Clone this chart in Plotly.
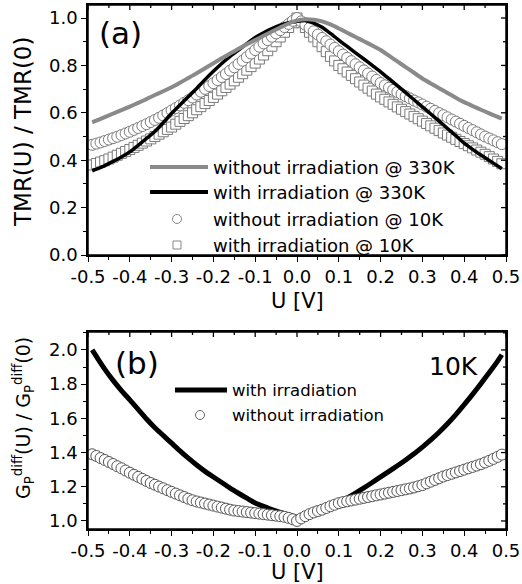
import plotly.graph_objects as go

# ---------------- data ----------------
# marker series grid (V)
u_mk = [round(i / 100, 2) for i in range(-49, 50)]
# line series grid (V)
u_ln = [-0.49] + [round(i / 100, 2) for i in range(-48, 49, 2)] + [0.49]

# (a) without irradiation @ 330K (gray line)
tmr_wo_330 = [0.560, 0.567, 0.582, 0.597, 0.611, 0.626, 0.642, 0.658, 0.675, 0.691, 0.708, 0.727,
              0.747, 0.767, 0.788, 0.809, 0.830, 0.850, 0.870, 0.889, 0.907, 0.925, 0.943, 0.960,
              0.977, 0.990, 0.995, 0.993, 0.986, 0.973, 0.956, 0.938, 0.920, 0.902, 0.884, 0.865,
              0.841, 0.817, 0.793, 0.769, 0.745, 0.724, 0.704, 0.684, 0.664, 0.645, 0.629, 0.613,
              0.598, 0.583, 0.576]
# (a) with irradiation @ 330K (black line)
tmr_w_330 = [0.355, 0.362, 0.377, 0.395, 0.414, 0.435, 0.463, 0.492, 0.521, 0.558, 0.598, 0.633,
             0.668, 0.703, 0.740, 0.775, 0.808, 0.838, 0.865, 0.892, 0.918, 0.938, 0.955, 0.970,
             0.980, 0.986, 0.989, 0.979, 0.961, 0.935, 0.907, 0.880, 0.853, 0.827, 0.800, 0.773,
             0.744, 0.715, 0.685, 0.655, 0.625, 0.595, 0.565, 0.534, 0.503, 0.472, 0.446, 0.422,
             0.399, 0.376, 0.364]
# (a) without irradiation @ 10K (circles)
tmr_wo_10 = [0.465, 0.470, 0.475, 0.481, 0.487, 0.493, 0.499, 0.506, 0.513, 0.520,
             0.528, 0.536, 0.544, 0.552, 0.561, 0.570, 0.579, 0.589, 0.599, 0.610,
             0.620, 0.631, 0.642, 0.653, 0.665, 0.677, 0.689, 0.701, 0.713, 0.725,
             0.738, 0.751, 0.764, 0.778, 0.792, 0.806, 0.820, 0.835, 0.850, 0.865,
             0.879, 0.893, 0.907, 0.921, 0.935, 0.949, 0.962, 0.975, 0.988,
             1.000,
             0.986, 0.972, 0.958, 0.944, 0.930, 0.916, 0.902, 0.888, 0.874, 0.860,
             0.846, 0.832, 0.818, 0.805, 0.792, 0.779, 0.766, 0.753, 0.739, 0.726,
             0.716, 0.706, 0.697, 0.688, 0.679, 0.670, 0.661, 0.652, 0.644, 0.635,
             0.626, 0.617, 0.608, 0.599, 0.590, 0.581, 0.572, 0.563, 0.554, 0.545,
             0.536, 0.527, 0.518, 0.509, 0.500, 0.492, 0.484, 0.476, 0.468]
# (a) with irradiation @ 10K (squares)
tmr_w_10 = [0.380, 0.386, 0.392, 0.398, 0.405, 0.413, 0.421, 0.429, 0.437, 0.445,
            0.454, 0.463, 0.472, 0.481, 0.490, 0.500, 0.510, 0.520, 0.530, 0.540,
            0.552, 0.564, 0.576, 0.588, 0.600, 0.613, 0.626, 0.639, 0.652, 0.665,
            0.679, 0.693, 0.707, 0.721, 0.735, 0.750, 0.765, 0.780, 0.795, 0.810,
            0.827, 0.844, 0.862, 0.881, 0.900, 0.920, 0.940, 0.960, 0.980,
            1.000,
            0.980, 0.960, 0.940, 0.920, 0.900, 0.879, 0.858, 0.838, 0.819, 0.800,
            0.786, 0.772, 0.758, 0.744, 0.730, 0.717, 0.704, 0.692, 0.679, 0.667,
            0.657, 0.646, 0.636, 0.625, 0.615, 0.605, 0.595, 0.585, 0.575, 0.565,
            0.555, 0.545, 0.535, 0.525, 0.515, 0.506, 0.497, 0.488, 0.479, 0.470,
            0.461, 0.452, 0.443, 0.434, 0.425, 0.415, 0.405, 0.395, 0.385]
# (b) with irradiation (black line)
g_w = [2.000, 1.962, 1.888, 1.822, 1.762, 1.708, 1.652, 1.596, 1.545, 1.500, 1.455, 1.410,
       1.367, 1.327, 1.290, 1.257, 1.225, 1.192, 1.162, 1.133, 1.105, 1.085, 1.066, 1.050,
       1.036, 1.022, 1.032, 1.045, 1.062, 1.085, 1.110, 1.135, 1.163, 1.193, 1.225, 1.258,
       1.290, 1.323, 1.357, 1.393, 1.432, 1.474, 1.519, 1.568, 1.622, 1.680, 1.740, 1.803,
       1.868, 1.935, 1.972]
# (b) without irradiation (circles)
g_wo = [1.390, 1.380, 1.368, 1.357, 1.345, 1.333, 1.320, 1.308, 1.295, 1.282,
        1.270, 1.258, 1.246, 1.234, 1.222, 1.212, 1.201, 1.191, 1.180, 1.170,
        1.160, 1.150, 1.140, 1.130, 1.121, 1.114, 1.108, 1.102, 1.096, 1.090,
        1.084, 1.078, 1.072, 1.066, 1.061, 1.058, 1.055, 1.052, 1.049, 1.046,
        1.043, 1.040, 1.037, 1.034, 1.031, 1.028, 1.024, 1.018, 1.010,
        1.000,
        1.015, 1.028, 1.040, 1.050, 1.058, 1.066, 1.076, 1.086, 1.095, 1.104,
        1.110, 1.115, 1.120, 1.125, 1.130, 1.135, 1.140, 1.145, 1.150, 1.155,
        1.160, 1.165, 1.170, 1.175, 1.180, 1.185, 1.190, 1.196, 1.203, 1.210,
        1.220, 1.230, 1.240, 1.250, 1.260, 1.268, 1.276, 1.284, 1.292, 1.300,
        1.308, 1.316, 1.324, 1.332, 1.342, 1.352, 1.363, 1.375, 1.388]

x_ticks = [-0.5, -0.4, -0.3, -0.2, -0.1, 0.0, 0.1, 0.2, 0.3, 0.4, 0.5]
x_ticktext = ["-0.5", "-0.4", "-0.3", "-0.2", "-0.1", "0.0", "0.1", "0.2", "0.3", "0.4", "0.5"]
ya_ticks = [0.0, 0.2, 0.4, 0.6, 0.8, 1.0]
yb_ticks = [1.0, 1.2, 1.4, 1.6, 1.8, 2.0]

legend_a = ["without irradiation @ 330K", "with irradiation @ 330K",
            "without irradiation @ 10K", "with irradiation @ 10K"]
legend_b = ["with irradiation", "without irradiation"]

# ---------------- layout helpers ----------------
W, H = 522, 584
def px(x): return x / W
def py(y): return 1 - y / H

FONT = "DejaVu Sans"
GRAY = "#8a8a8a"
MK = "#7a7a7a"

fig = go.Figure()

# (a) traces
fig.add_trace(go.Scatter(x=u_mk, y=tmr_w_10, mode="markers", xaxis="x", yaxis="y",
                         marker=dict(symbol="square", size=10, color="white",
                                     line=dict(color=MK, width=1)), showlegend=False))
fig.add_trace(go.Scatter(x=u_mk, y=tmr_wo_10, mode="markers", xaxis="x", yaxis="y",
                         marker=dict(symbol="circle", size=11, color="white",
                                     line=dict(color=MK, width=1)), showlegend=False))
fig.add_trace(go.Scatter(x=u_ln, y=tmr_w_330, mode="lines", xaxis="x", yaxis="y",
                         line=dict(color="black", width=3.5, shape="spline", smoothing=0.6),
                         showlegend=False))
fig.add_trace(go.Scatter(x=u_ln, y=tmr_wo_330, mode="lines", xaxis="x", yaxis="y",
                         line=dict(color=GRAY, width=4, shape="spline", smoothing=0.6),
                         showlegend=False))
# (b) traces
fig.add_trace(go.Scatter(x=u_ln, y=g_w, mode="lines", xaxis="x2", yaxis="y2",
                         line=dict(color="black", width=5, shape="spline", smoothing=0.6),
                         showlegend=False))
fig.add_trace(go.Scatter(x=u_mk, y=g_wo, mode="markers", xaxis="x2", yaxis="y2",
                         marker=dict(symbol="circle", size=11, color="white",
                                     line=dict(color="#555555", width=1)), showlegend=False))

dom_x = [px(88), px(506)]
dom_ya = [py(255), py(5)]
dom_yb = [py(529), py(332)]

tickfont = dict(family=FONT, size=18, color="black")

def xax(anchor):
    return dict(range=[-0.5, 0.5], domain=dom_x, anchor=anchor, side="bottom",
                automargin=False, showline=True, linecolor="black", linewidth=1.5,
                mirror=True, showgrid=False, zeroline=False,
                tickmode="array", tickvals=x_ticks, ticktext=x_ticktext,
                ticks="outside", ticklen=5, tickwidth=1.3, tickcolor="black",
                tickfont=tickfont,
                minor=dict(tickmode="array",
                           tickvals=[round(v + 0.05, 2) for v in x_ticks[:-1]],
                           ticks="outside", ticklen=3, tickwidth=1.2, tickcolor="black"))

def yax(anchor, rng, tv, dom):
    return dict(range=rng, domain=dom, anchor=anchor, side="left",
                automargin=False, showline=True, linecolor="black", linewidth=1.5,
                mirror=True, showgrid=False, zeroline=False,
                tickmode="array", tickvals=tv, ticktext=["%.1f" % v for v in tv],
                ticks="outside", ticklen=5, tickwidth=1.3, tickcolor="black",
                tickfont=tickfont,
                minor=dict(tickmode="array",
                           tickvals=[round(v + 0.1, 2) for v in tv],
                           ticks="outside", ticklen=3, tickwidth=1.2, tickcolor="black"))

fig.update_layout(
    template="none",
    width=W, height=H, margin=dict(l=0, r=0, t=0, b=0, pad=0), autosize=False,
    paper_bgcolor="white", plot_bgcolor="white", showlegend=False,
    font=dict(family=FONT, color="black"),
    xaxis=xax("y"),
    yaxis=yax("x", [0, 1.055], ya_ticks, dom_ya),
    xaxis2=xax("y2"),
    yaxis2=yax("x2", [0.953, 2.105], yb_ticks, dom_yb),
)

ann = []
def text(x, y, s, size, angle=0, xanchor="center"):
    ann.append(dict(x=px(x), y=py(y), xref="paper", yref="paper", text=s, showarrow=False,
                    xanchor=xanchor, yanchor="middle", textangle=angle,
                    font=dict(family=FONT, size=size, color="black")))

text(23, 132, "TMR(U) / TMR(0)", 23, angle=-90)
text(297, 301, "U [V]", 21)
text(23, 418, "G<sub>P</sub><sup>diff</sup>(U) / G<sub>P</sub><sup>diff</sup>(0)", 19, angle=-90)
text(297, 572, "U [V]", 21)
text(120, 33, "(a)", 31)
text(137, 363, "(b)", 31)
text(453, 366, "10K", 25)

# legend (a)
rows_a = [167, 192, 219, 245]
for lab, yy in zip(legend_a, rows_a):
    text(211, yy, lab, 18, xanchor="left")
# legend (b)
rows_b = [390, 415]
for lab, yy in zip(legend_b, rows_b):
    text(230, yy, lab, 16.5, xanchor="left")

shapes = [
    dict(type="line", xref="paper", yref="paper", x0=px(150), x1=px(208), y0=py(167), y1=py(167),
         line=dict(color=GRAY, width=4)),
    dict(type="line", xref="paper", yref="paper", x0=px(150), x1=px(208), y0=py(192), y1=py(192),
         line=dict(color="black", width=4)),
    dict(type="circle", xref="paper", yref="paper", xsizemode="pixel", ysizemode="pixel",
         xanchor=px(177), yanchor=py(219), x0=-4.5, x1=4.5, y0=-4.5, y1=4.5,
         line=dict(color="#888888", width=1), fillcolor="white"),
    dict(type="rect", xref="paper", yref="paper", xsizemode="pixel", ysizemode="pixel",
         xanchor=px(177), yanchor=py(245), x0=-4, x1=4, y0=-4, y1=4,
         line=dict(color="#888888", width=1), fillcolor="white"),
    dict(type="line", xref="paper", yref="paper", x0=px(175), x1=px(227), y0=py(390), y1=py(390),
         line=dict(color="black", width=5)),
    dict(type="circle", xref="paper", yref="paper", xsizemode="pixel", ysizemode="pixel",
         xanchor=px(200), yanchor=py(415), x0=-4.5, x1=4.5, y0=-4.5, y1=4.5,
         line=dict(color="#666666", width=1), fillcolor="white"),
]

# frame and inward ticks on the top / right edges, placed via the axes' own scales
for xr, yr, ytv in [("x", "y", ya_ticks), ("x2", "y2", yb_ticks)]:
    shapes.append(dict(type="rect", xref=xr + " domain", yref=yr + " domain",
                       x0=0, x1=1, y0=0, y1=1, line=dict(color="black", width=1.5),
                       fillcolor="rgba(0,0,0,0)", layer="above"))
    for v in x_ticks:
        for half, ln in [(0.0, 5), (0.05, 3)]:
            xv = round(v + half, 2)
            if xv > 0.5:
                continue
            shapes.append(dict(type="line", xref=xr, yref=yr + " domain", ysizemode="pixel",
                               yanchor=1, x0=xv, x1=xv, y0=0, y1=-ln,
                               line=dict(color="black", width=1.3)))
    for v in ytv:
        for half, ln in [(0.0, 5), (0.1, 3)]:
            yv = round(v + half, 2)
            shapes.append(dict(type="line", xref=xr + " domain", yref=yr, xsizemode="pixel",
                               xanchor=1, y0=yv, y1=yv, x0=0, x1=-ln,
                               line=dict(color="black", width=1.3)))

fig.update_layout(annotations=ann, shapes=shapes)

fig.write_html("out.html")
